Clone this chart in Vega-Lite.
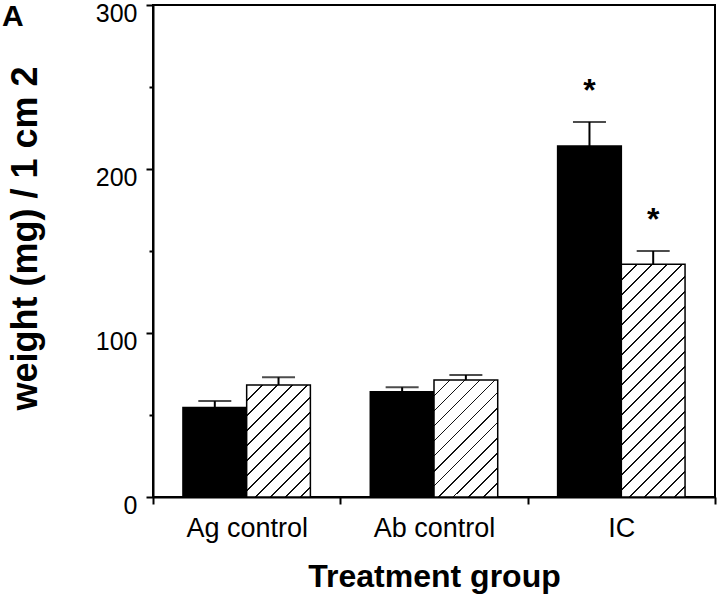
{
  "$schema": "https://vega.github.io/schema/vega-lite/v6.json",
  "width": 562,
  "height": 492,
  "autosize": {"type": "none"},
  "padding": {"left": 153, "top": 5, "right": 5, "bottom": 103},
  "background": "white",
  "config": {
    "font": "Liberation Sans",
    "view": {"stroke": "black", "strokeWidth": 2},
    "axis": {"domainColor": "black", "domainWidth": 2, "tickColor": "black", "tickWidth": 2, "labelColor": "black", "titleColor": "black", "grid": false, "labelFont": "Liberation Sans", "titleFont": "Liberation Sans"},
    "title": {"fontSize": 30, "font": "Liberation Sans", "fontWeight": "bold", "color": "black"}
  },
  "title": {"text": "A", "anchor": "start", "frame": "group", "fontSize": 30, "fontWeight": "bold", "color": "black", "font": "Liberation Sans", "offset": -55, "baseline": "alphabetic", "dx": -151, "dy": 0},
  "data": {
    "values": [
      {"group": "Ag control", "series": "A", "value": 54.5, "upper": 58.5, "star": ""},
      {"group": "Ag control", "series": "B", "value": 68.3, "upper": 73.0, "star": ""},
      {"group": "Ab control", "series": "A", "value": 64.2, "upper": 66.9, "star": ""},
      {"group": "Ab control", "series": "B", "value": 71.3, "upper": 74.4, "star": ""},
      {"group": "IC", "series": "A", "value": 214, "upper": 228.7, "star": "*"},
      {"group": "IC", "series": "B", "value": 141.9, "upper": 150, "star": "*"}
    ]
  },
  "encoding": {
    "x": {
      "field": "group", "type": "nominal", "sort": ["Ag control", "Ab control", "IC"],
      "scale": {"paddingInner": 0, "paddingOuter": 0},
      "axis": {"title": "Treatment group", "labelAngle": 0, "labelFontSize": 27, "labelPadding": 11, "tickSize": 7, "tickBand": "extent", "titleFontSize": 32, "titleFontWeight": "bold", "titlePadding": 20}
    },
    "xOffset": {"field": "series", "type": "nominal", "sort": ["A", "B"], "scale": {"paddingInner": 0, "paddingOuter": 0.47}},
    "y": {
      "field": "value", "type": "quantitative", "scale": {"domain": [0, 300], "nice": false},
      "axis": {"title": "weight (mg) / 1 cm 2", "values": [0, 50, 100, 150, 200, 250, 300], "labelExpr": "datum.value % 100 === 0 ? datum.label : ''", "tickSize": {"condition": {"test": "datum.value % 100 === 0", "value": 7}, "value": 4}, "labelFontSize": 25, "labelPadding": 9, "labelOffset": 8, "titleFontSize": 36, "titleFontWeight": "bold", "titlePadding": 51, "titleY": 233}
    }
  },
  "layer": [
    {
      "mark": {"type": "bar", "stroke": "black", "strokeWidth": 1.5},
      "encoding": {
        "fill": {
          "condition": [
            {"test": "datum.series === 'B' && datum.group === 'Ag control'", "value": {"gradient": "linear", "x1": 0, "y1": 0, "x2": 0.6741, "y2": 1.1853, "stops": [
              {"offset": 0, "color": "white"},
              {"offset": 0.0854, "color": "white"}, {"offset": 0.0854, "color": "#111"}, {"offset": 0.0962, "color": "#111"}, {"offset": 0.0962, "color": "white"},
              {"offset": 0.1707, "color": "white"}, {"offset": 0.1707, "color": "#111"}, {"offset": 0.1815, "color": "#111"}, {"offset": 0.1815, "color": "white"},
              {"offset": 0.2561, "color": "white"}, {"offset": 0.2561, "color": "#111"}, {"offset": 0.2669, "color": "#111"}, {"offset": 0.2669, "color": "white"},
              {"offset": 0.3415, "color": "white"}, {"offset": 0.3415, "color": "#111"}, {"offset": 0.3523, "color": "#111"}, {"offset": 0.3523, "color": "white"},
              {"offset": 0.4269, "color": "white"}, {"offset": 0.4269, "color": "#111"}, {"offset": 0.4377, "color": "#111"}, {"offset": 0.4377, "color": "white"},
              {"offset": 0.5122, "color": "white"}, {"offset": 0.5122, "color": "#111"}, {"offset": 0.5230, "color": "#111"}, {"offset": 0.5230, "color": "white"},
              {"offset": 0.5976, "color": "white"}, {"offset": 0.5976, "color": "#111"}, {"offset": 0.6084, "color": "#111"}, {"offset": 0.6084, "color": "white"},
              {"offset": 0.6830, "color": "white"}, {"offset": 0.6830, "color": "#111"}, {"offset": 0.6938, "color": "#111"}, {"offset": 0.6938, "color": "white"},
              {"offset": 0.7683, "color": "white"}, {"offset": 0.7683, "color": "#111"}, {"offset": 0.7791, "color": "#111"}, {"offset": 0.7791, "color": "white"},
              {"offset": 0.8537, "color": "white"}, {"offset": 0.8537, "color": "#111"}, {"offset": 0.8645, "color": "#111"}, {"offset": 0.8645, "color": "white"},
              {"offset": 0.9391, "color": "white"}, {"offset": 0.9391, "color": "#111"}, {"offset": 0.9499, "color": "#111"}, {"offset": 0.9499, "color": "white"},
              {"offset": 1, "color": "white"}
            ]}},
            {"test": "datum.series === 'B' && datum.group === 'Ab control'", "value": {"gradient": "linear", "x1": 0, "y1": 0, "x2": 0.6491, "y2": 1.1912, "stops": [
              {"offset": 0, "color": "white"},
              {"offset": 0.0831, "color": "white"}, {"offset": 0.0831, "color": "#111"}, {"offset": 0.0936, "color": "#111"}, {"offset": 0.0936, "color": "white"},
              {"offset": 0.1661, "color": "white"}, {"offset": 0.1661, "color": "#111"}, {"offset": 0.1766, "color": "#111"}, {"offset": 0.1766, "color": "white"},
              {"offset": 0.2492, "color": "white"}, {"offset": 0.2492, "color": "#111"}, {"offset": 0.2597, "color": "#111"}, {"offset": 0.2597, "color": "white"},
              {"offset": 0.3322, "color": "white"}, {"offset": 0.3322, "color": "#111"}, {"offset": 0.3427, "color": "#111"}, {"offset": 0.3427, "color": "white"},
              {"offset": 0.4153, "color": "white"}, {"offset": 0.4153, "color": "#111"}, {"offset": 0.4258, "color": "#111"}, {"offset": 0.4258, "color": "white"},
              {"offset": 0.4984, "color": "white"}, {"offset": 0.4984, "color": "#111"}, {"offset": 0.5089, "color": "#111"}, {"offset": 0.5089, "color": "white"},
              {"offset": 0.5814, "color": "white"}, {"offset": 0.5814, "color": "#111"}, {"offset": 0.5919, "color": "#111"}, {"offset": 0.5919, "color": "white"},
              {"offset": 0.6645, "color": "white"}, {"offset": 0.6645, "color": "#111"}, {"offset": 0.6750, "color": "#111"}, {"offset": 0.6750, "color": "white"},
              {"offset": 0.7475, "color": "white"}, {"offset": 0.7475, "color": "#111"}, {"offset": 0.7580, "color": "#111"}, {"offset": 0.7580, "color": "white"},
              {"offset": 0.8306, "color": "white"}, {"offset": 0.8306, "color": "#111"}, {"offset": 0.8411, "color": "#111"}, {"offset": 0.8411, "color": "white"},
              {"offset": 0.9137, "color": "white"}, {"offset": 0.9137, "color": "#111"}, {"offset": 0.9242, "color": "#111"}, {"offset": 0.9242, "color": "white"},
              {"offset": 1, "color": "white"}
            ]}},
            {"test": "datum.series === 'B' && datum.group === 'IC'", "value": {"gradient": "linear", "x1": 0, "y1": 0, "x2": 0.3244, "y2": 1.1850, "stops": [
              {"offset": 0, "color": "white"},
              {"offset": 0.0506, "color": "white"}, {"offset": 0.0506, "color": "#111"}, {"offset": 0.0570, "color": "#111"}, {"offset": 0.0570, "color": "white"},
              {"offset": 0.1012, "color": "white"}, {"offset": 0.1012, "color": "#111"}, {"offset": 0.1076, "color": "#111"}, {"offset": 0.1076, "color": "white"},
              {"offset": 0.1518, "color": "white"}, {"offset": 0.1518, "color": "#111"}, {"offset": 0.1582, "color": "#111"}, {"offset": 0.1582, "color": "white"},
              {"offset": 0.2024, "color": "white"}, {"offset": 0.2024, "color": "#111"}, {"offset": 0.2088, "color": "#111"}, {"offset": 0.2088, "color": "white"},
              {"offset": 0.2531, "color": "white"}, {"offset": 0.2531, "color": "#111"}, {"offset": 0.2595, "color": "#111"}, {"offset": 0.2595, "color": "white"},
              {"offset": 0.3037, "color": "white"}, {"offset": 0.3037, "color": "#111"}, {"offset": 0.3101, "color": "#111"}, {"offset": 0.3101, "color": "white"},
              {"offset": 0.3543, "color": "white"}, {"offset": 0.3543, "color": "#111"}, {"offset": 0.3607, "color": "#111"}, {"offset": 0.3607, "color": "white"},
              {"offset": 0.4049, "color": "white"}, {"offset": 0.4049, "color": "#111"}, {"offset": 0.4113, "color": "#111"}, {"offset": 0.4113, "color": "white"},
              {"offset": 0.4555, "color": "white"}, {"offset": 0.4555, "color": "#111"}, {"offset": 0.4619, "color": "#111"}, {"offset": 0.4619, "color": "white"},
              {"offset": 0.5061, "color": "white"}, {"offset": 0.5061, "color": "#111"}, {"offset": 0.5125, "color": "#111"}, {"offset": 0.5125, "color": "white"},
              {"offset": 0.5567, "color": "white"}, {"offset": 0.5567, "color": "#111"}, {"offset": 0.5631, "color": "#111"}, {"offset": 0.5631, "color": "white"},
              {"offset": 0.6073, "color": "white"}, {"offset": 0.6073, "color": "#111"}, {"offset": 0.6137, "color": "#111"}, {"offset": 0.6137, "color": "white"},
              {"offset": 0.6579, "color": "white"}, {"offset": 0.6579, "color": "#111"}, {"offset": 0.6643, "color": "#111"}, {"offset": 0.6643, "color": "white"},
              {"offset": 0.7085, "color": "white"}, {"offset": 0.7085, "color": "#111"}, {"offset": 0.7149, "color": "#111"}, {"offset": 0.7149, "color": "white"},
              {"offset": 0.7592, "color": "white"}, {"offset": 0.7592, "color": "#111"}, {"offset": 0.7656, "color": "#111"}, {"offset": 0.7656, "color": "white"},
              {"offset": 0.8098, "color": "white"}, {"offset": 0.8098, "color": "#111"}, {"offset": 0.8162, "color": "#111"}, {"offset": 0.8162, "color": "white"},
              {"offset": 0.8604, "color": "white"}, {"offset": 0.8604, "color": "#111"}, {"offset": 0.8668, "color": "#111"}, {"offset": 0.8668, "color": "white"},
              {"offset": 0.9110, "color": "white"}, {"offset": 0.9110, "color": "#111"}, {"offset": 0.9174, "color": "#111"}, {"offset": 0.9174, "color": "white"},
              {"offset": 0.9616, "color": "white"}, {"offset": 0.9616, "color": "#111"}, {"offset": 0.9680, "color": "#111"}, {"offset": 0.9680, "color": "white"},
              {"offset": 1, "color": "white"}
            ]}}
          ],
          "value": "black"
        }
      }
    },
    {
      "mark": {"type": "rule", "strokeWidth": 2, "color": "black"},
      "encoding": {"y2": {"field": "upper"}}
    },
    {
      "mark": {"type": "tick", "size": 33, "thickness": 2, "color": "black"},
      "encoding": {"y": {"field": "upper", "type": "quantitative", "title": "weight (mg) / 1 cm 2"}}
    },
    {
      "mark": {"type": "text", "fontSize": 32, "fontWeight": "bold", "font": "Liberation Sans", "baseline": "alphabetic", "dy": -21, "color": "black"},
      "encoding": {"y": {"field": "upper", "type": "quantitative", "title": "weight (mg) / 1 cm 2"}, "text": {"field": "star"}}
    }
  ]
}
